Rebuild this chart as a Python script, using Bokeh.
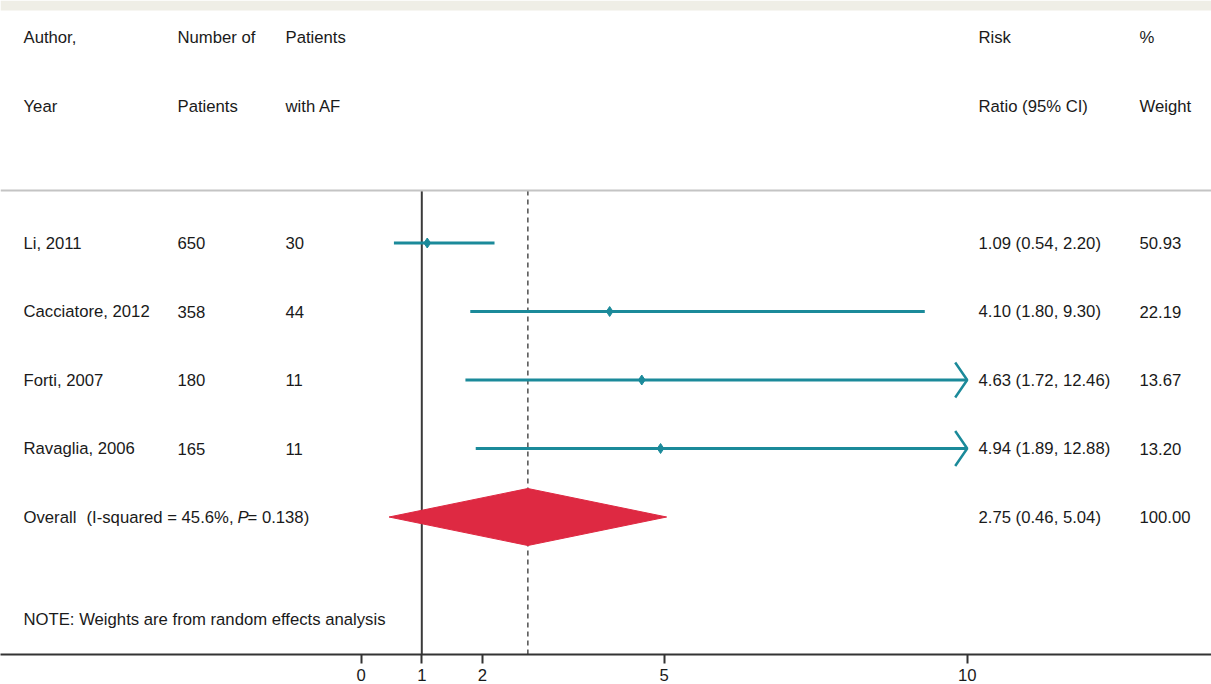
from bokeh.plotting import figure
from bokeh.models import Range1d, LinearAxis, FixedTicker, Span, ColumnDataSource
from bokeh.core.properties import value
from bokeh.embed import file_html
from bokeh.resources import INLINE

# ---------------- data ----------------
authors = ["Li, 2011", "Cacciatore, 2012", "Forti, 2007", "Ravaglia, 2006"]
n_patients = [650, 358, 180, 165]
n_af = [30, 44, 11, 11]
rr = [1.09, 4.10, 4.63, 4.94]
ci_lo = [0.54, 1.80, 1.72, 1.89]
ci_hi = [2.20, 9.30, 12.46, 12.88]
weights = [50.93, 22.19, 13.67, 13.20]

overall_rr = 2.75
overall_lo = 0.46
overall_hi = 5.04
overall_weight = 100.00
i_squared = 45.6
p_value = 0.138

header_top = ["Author,", "Number of", "Patients", "Risk", "%"]
header_bottom = ["Year", "Patients", "with AF", "Ratio (95% CI)", "Weight"]
note_text = "NOTE: Weights are from random effects analysis"
tick_values = [0, 1, 2, 5, 10]
x_cap = 10  # largest value drawn; longer CIs end in an arrow

# ---------------- layout helpers ----------------
W, H = 1211, 684
FONT = value("Liberation Sans")
FS = "16.7px"
TXT = "#1a1a1a"
TEAL = "#1b8a9a"
RED = "#de2942"

PX_ZERO = 360.7         # frame x pixel of value 0
PX_UNIT = 60.6          # pixels per unit
def dx(px):             # frame pixel -> data x
    return (px - PX_ZERO) / PX_UNIT

ROW_PX = 68.5
ROW0_PX = 37            # frame y pixel of row 0
def ry(px):
    return (px - ROW0_PX) / ROW_PX

frame_bottom_px = 654
x_start, x_end = dx(0), dx(W)
y_top, y_bot = ry(0), ry(frame_bottom_px)

p = figure(width=W, height=H, output_backend="svg", toolbar_location=None,
           x_range=Range1d(x_start, x_end), y_range=Range1d(y_bot, y_top),
           x_axis_type=None, y_axis_type=None, min_border=0,
           min_border_bottom=H - frame_bottom_px,
           background_fill_color="white", border_fill_color="white")
p.outline_line_color = None
p.xgrid.visible = False
p.ygrid.visible = False

# top band
p.quad(left=[x_start], right=[x_end], top=[y_top], bottom=[ry(10)],
       fill_color="#efeee6", line_color=None)

col_px = [23, 177, 285, 978, 1139]
col_x = [dx(c) for c in col_px]

def txt(xs, ys, texts, **kw):
    p.text(x=xs, y=ys, text=texts, text_font=FONT, text_font_size=FS,
           text_color=TXT, text_baseline="middle", text_align="left", **kw)

# headers
txt(col_x, [0] * 5, header_top)
txt(col_x, [1] * 5, header_bottom)

sep_row = ry(190)
p.add_layout(Span(location=sep_row, dimension="width", line_color="#c4c4c4", line_width=2))

rows = [3, 4, 5, 6]
overall_row = 7
note_row = ry(619)

# reference lines
p.segment(x0=[1], y0=[sep_row], x1=[1], y1=[y_bot], line_color="#3a3a3a", line_width=2)
p.segment(x0=[overall_rr], y0=[sep_row], x1=[overall_rr], y1=[y_bot],
          line_color="#5a5a5a", line_width=1.6, line_dash="5 4")

# CI lines
src = ColumnDataSource(dict(
    lo=ci_lo, hi=[min(h, x_cap) for h in ci_hi], rr=rr, y=rows))
p.segment(x0="lo", y0="y", x1="hi", y1="y", source=src, line_color=TEAL, line_width=3)
p.scatter(x="rr", y="y", source=src, marker="diamond", size=10, color=TEAL)

# arrows for truncated CIs
arr_dx = 12 / PX_UNIT
arr_dy = 17.5 / ROW_PX
axs, ays = [], []
for h, r in zip(ci_hi, rows):
    if h > x_cap:
        axs.append([x_cap - arr_dx, x_cap, x_cap - arr_dx])
        ays.append([r - arr_dy, r, r + arr_dy])
p.multi_line(xs=axs, ys=ays, line_color=TEAL, line_width=2.5)

# overall diamond
dh = 28.5 / ROW_PX
p.patch(x=[overall_lo, overall_rr, overall_hi, overall_rr],
        y=[overall_row, overall_row - dh, overall_row, overall_row + dh],
        fill_color=RED, line_color=RED)

# study texts
txt([col_x[0]] * 4, rows, authors)
txt([col_x[1]] * 4, rows, [str(v) for v in n_patients])
txt([col_x[2]] * 4, rows, [str(v) for v in n_af])
ci_txt = [f"{a:.2f} ({b:.2f}, {c:.2f})" for a, b, c in zip(rr, ci_lo, ci_hi)]
txt([col_x[3]] * 4, rows, ci_txt)
txt([col_x[4]] * 4, rows, [f"{w:.2f}" for w in weights])

# overall texts
txt([col_x[0]], [overall_row], ["Overall"])
txt([dx(86)], [overall_row], [f"(I-squared = {i_squared}%,"])
txt([dx(237)], [overall_row], ["P"], text_font_style="italic")
txt([dx(247)], [overall_row], [f"= {p_value})"])
txt([col_x[3]], [overall_row],
    [f"{overall_rr:.2f} ({overall_lo:.2f}, {overall_hi:.2f})"])
txt([col_x[4]], [overall_row], [f"{overall_weight:.2f}"])

txt([col_x[0]], [note_row], [note_text])

# x axis
ax = LinearAxis(ticker=FixedTicker(ticks=tick_values))
ax.axis_line_color = "#333333"
ax.axis_line_width = 2
ax.major_tick_line_color = "#333333"
ax.major_tick_line_width = 2
ax.major_tick_out = 9
ax.major_tick_in = 0
ax.minor_tick_line_color = None
ax.major_label_text_font = "Liberation Sans"
ax.major_label_text_font_size = FS
ax.major_label_text_color = TXT
ax.major_label_standoff = 5
p.add_layout(ax, "below")

open("out.html", "w").write(file_html(p, INLINE))
